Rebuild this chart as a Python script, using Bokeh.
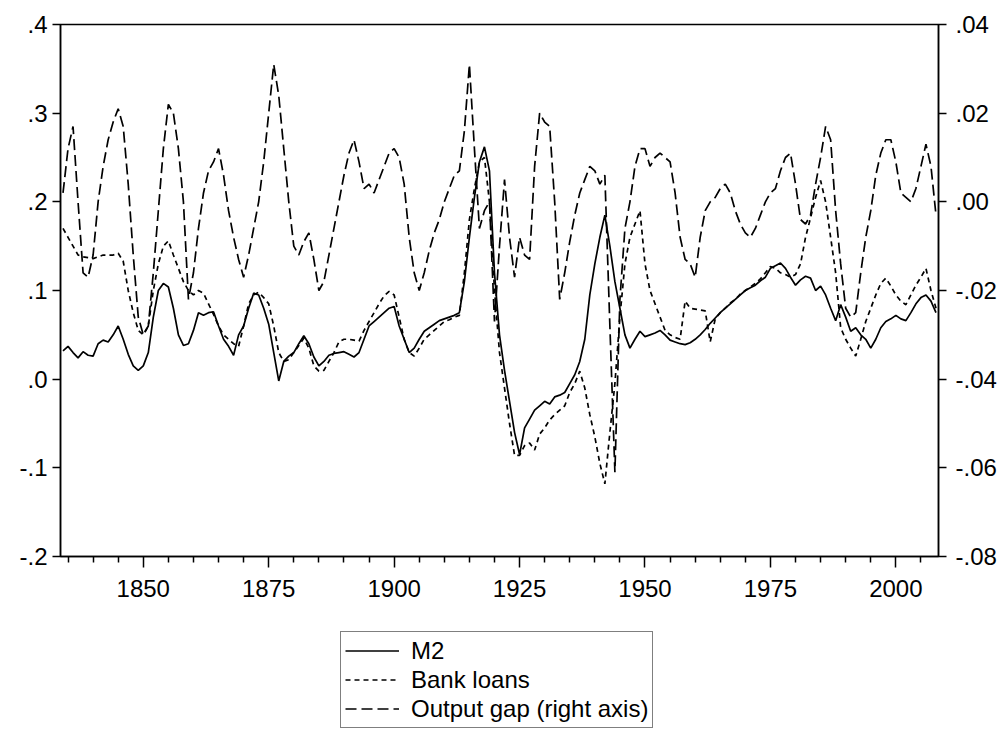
from bokeh.plotting import figure
from bokeh.layouts import column
from bokeh.models import (Range1d, LinearAxis, FixedTicker, CustomJSTickFormatter,
                          Legend, LegendItem, ColumnDataSource)
from bokeh.embed import file_html
from bokeh.resources import INLINE

# ---------------- data (annual, 1834-2008) ----------------
years = list(range(1834, 2009))

m2 = [
    0.032, 0.037, 0.030, 0.024, 0.031, 0.027,                              # 1834-39
    0.026, 0.040, 0.044, 0.042, 0.050, 0.060, 0.045, 0.028, 0.015, 0.010,  # 1840s
    0.015, 0.030, 0.070, 0.100, 0.108, 0.104, 0.080, 0.050, 0.038, 0.040,  # 1850s
    0.055, 0.075, 0.072, 0.075, 0.076, 0.060, 0.045, 0.037, 0.027, 0.050,  # 1860s
    0.060, 0.080, 0.097, 0.095, 0.080, 0.062, 0.030, -0.002, 0.020, 0.026, # 1870s
    0.030, 0.040, 0.049, 0.040, 0.025, 0.015, 0.020, 0.027, 0.029, 0.030,  # 1880s
    0.031, 0.028, 0.025, 0.030, 0.045, 0.060, 0.065, 0.070, 0.075, 0.080,  # 1890s
    0.082, 0.060, 0.045, 0.030, 0.035, 0.045, 0.054, 0.058, 0.062, 0.066,  # 1900s
    0.068, 0.070, 0.072, 0.075, 0.110, 0.160, 0.205, 0.245, 0.262, 0.235,  # 1910s
    0.120, 0.050, 0.010, -0.025, -0.060, -0.085, -0.055, -0.045, -0.035, -0.030,  # 1920s
    -0.025, -0.028, -0.020, -0.018, -0.015, -0.005, 0.005, 0.020, 0.045, 0.095,   # 1930s
    0.130, 0.160, 0.185, 0.150, 0.110, 0.080, 0.050, 0.035, 0.045, 0.054,  # 1940s
    0.048, 0.050, 0.052, 0.055, 0.050, 0.044, 0.042, 0.040, 0.039, 0.041,  # 1950s
    0.045, 0.050, 0.056, 0.063, 0.069, 0.075, 0.080, 0.085, 0.090, 0.095,  # 1960s
    0.100, 0.103, 0.106, 0.111, 0.115, 0.125, 0.128, 0.131, 0.125, 0.115,  # 1970s
    0.106, 0.112, 0.116, 0.114, 0.100, 0.105, 0.095, 0.080, 0.066, 0.084,  # 1980s
    0.070, 0.054, 0.058, 0.050, 0.045, 0.035, 0.045, 0.058, 0.065, 0.068,  # 1990s
    0.072, 0.068, 0.066, 0.075, 0.085, 0.092, 0.095, 0.088, 0.075,         # 2000-08
]

bank_loans = [
    0.170, 0.160, 0.150, 0.140, 0.138, 0.137,
    0.136, 0.138, 0.140, 0.140, 0.140, 0.142, 0.133, 0.100, 0.075, 0.055,
    0.050, 0.060, 0.100, 0.130, 0.150, 0.156, 0.140, 0.125, 0.110, 0.100,
    0.095, 0.100, 0.097, 0.085, 0.073, 0.060, 0.050, 0.045, 0.040, 0.037,
    0.060, 0.085, 0.095, 0.098, 0.092, 0.085, 0.060, 0.030, 0.020, 0.022,
    0.030, 0.038, 0.046, 0.035, 0.015, 0.009, 0.010, 0.020, 0.030, 0.042,
    0.045, 0.045, 0.044, 0.043, 0.055, 0.065, 0.075, 0.085, 0.094, 0.099,
    0.095, 0.070, 0.045, 0.030, 0.026, 0.035, 0.045, 0.050, 0.055, 0.060,
    0.065, 0.067, 0.070, 0.072, 0.120, 0.180, 0.215, 0.245, 0.250, 0.200,
    0.100, 0.030, -0.010, -0.050, -0.086, -0.086, -0.075, -0.072, -0.080, -0.062,
    -0.055, -0.046, -0.040, -0.035, -0.030, -0.015, -0.005, 0.009, -0.010, -0.040,
    -0.065, -0.095, -0.118, -0.060, -0.005, 0.070, 0.130, 0.160, 0.175, 0.190,
    0.130, 0.100, 0.085, 0.070, 0.055, 0.050, 0.047, 0.045, 0.088, 0.080,
    0.079, 0.078, 0.077, 0.042, 0.068, 0.075, 0.080, 0.086, 0.090, 0.096,
    0.100, 0.104, 0.108, 0.113, 0.120, 0.127, 0.125, 0.120, 0.118, 0.115,
    0.118, 0.130, 0.160, 0.182, 0.205, 0.224, 0.200, 0.160, 0.120, 0.058,
    0.045, 0.035, 0.026, 0.045, 0.065, 0.080, 0.095, 0.108, 0.114, 0.105,
    0.095, 0.088, 0.084, 0.095, 0.106, 0.115, 0.125, 0.100, 0.080,
]

output_gap = [
    0.002, 0.012, 0.017, 0.000, -0.016, -0.017,
    -0.012, 0.000, 0.008, 0.014, 0.018, 0.021, 0.017, 0.004, -0.012, -0.026,
    -0.030, -0.028, -0.016, -0.002, 0.012, 0.022, 0.020, 0.012, 0.000, -0.022,
    -0.016, -0.006, 0.002, 0.007, 0.009, 0.012, 0.006, -0.002, -0.008, -0.013,
    -0.017, -0.012, -0.006, 0.000, 0.009, 0.020, 0.031, 0.024, 0.012, 0.000,
    -0.010, -0.012, -0.009, -0.007, -0.013, -0.020, -0.018, -0.012, -0.006, 0.000,
    0.006, 0.011, 0.014, 0.009, 0.003, 0.004, 0.002, 0.005, 0.008, 0.011,
    0.012, 0.010, 0.004, -0.008, -0.016, -0.020, -0.016, -0.011, -0.007, -0.004,
    0.000, 0.003, 0.006, 0.007, 0.016, 0.031, 0.012, -0.006, -0.002, 0.000,
    -0.027, -0.010, 0.005, -0.008, -0.017, -0.008, -0.012, -0.013, 0.008, 0.020,
    0.018, 0.017, 0.000, -0.022, -0.016, -0.009, -0.003, 0.002, 0.005, 0.008,
    0.007, 0.004, 0.006, -0.028, -0.061, -0.022, -0.006, 0.000, 0.008, 0.012,
    0.012, 0.008, 0.010, 0.011, 0.010, 0.009, 0.002, -0.008, -0.013, -0.014,
    -0.017, -0.008, -0.002, 0.000, 0.001, 0.003, 0.004, 0.002, -0.002, -0.005,
    -0.007, -0.008, -0.006, -0.003, 0.000, 0.002, 0.003, 0.007, 0.010, 0.011,
    0.004, -0.004, -0.005, -0.003, 0.004, 0.010, 0.017, 0.014, -0.002, -0.014,
    -0.024, -0.026, -0.025, -0.016, -0.008, -0.002, 0.006, 0.011, 0.014, 0.014,
    0.009, 0.002, 0.001, 0.000, 0.003, 0.008, 0.013, 0.008, -0.003,
]

left_ticks = [-0.2, -0.1, 0.0, 0.1, 0.2, 0.3, 0.4]
right_ticks = [-0.08, -0.06, -0.04, -0.02, 0.0, 0.02, 0.04]
year_ticks = [1850, 1875, 1900, 1925, 1950, 1975, 2000]
year_minor = [1835, 1840, 1845, 1855, 1860, 1865, 1870, 1880, 1885, 1890, 1895,
              1905, 1910, 1915, 1920, 1930, 1935, 1940, 1945, 1955, 1960, 1965,
              1970, 1980, 1985, 1990, 1995, 2005]

labels = ["M2", "Bank loans", "Output gap (right axis)"]

assert len(years) == len(m2) == len(bank_loans) == len(output_gap)

src = ColumnDataSource(dict(year=years, m2=m2, loans=bank_loans, gap=output_gap))

FONT = "Liberation Sans"
FSIZE = "24px"
LW = 1.7
DASH_LOANS = "5 4"
DASH_GAP = "11 5"

p = figure(width=1000, height=612, output_backend="svg", toolbar_location=None,
           x_range=Range1d(1833.5, 2008.5), y_range=Range1d(-0.2, 0.4),
           min_border_left=60, min_border_right=62, min_border_top=24,
           min_border_bottom=56)
p.extra_y_ranges = {"gap": Range1d(-0.08, 0.04)}

p.xgrid.visible = False
p.ygrid.visible = False
p.outline_line_color = "black"
p.outline_line_width = 1.5
p.background_fill_color = "white"
p.border_fill_color = "white"

# x axis
xa = p.xaxis[0]
xa.ticker = FixedTicker(ticks=year_ticks, minor_ticks=year_minor)
xa.major_tick_out = 11
xa.major_tick_in = 0
xa.minor_tick_out = 6
xa.minor_tick_in = 0
xa.major_label_standoff = 12
xa.major_label_text_font = FONT
xa.major_label_text_font_size = FSIZE
xa.major_label_text_color = "black"
xa.axis_line_width = 1.5
xa.major_tick_line_width = 1.5
xa.minor_tick_line_width = 1.5

# left axis
ya = p.yaxis[0]
ya.ticker = FixedTicker(ticks=left_ticks)
ya.formatter = CustomJSTickFormatter(code='return tick.toFixed(1).replace("0.", ".");')
ya.major_tick_out = 8
ya.major_tick_in = 0
ya.minor_tick_out = 0
ya.minor_tick_in = 0
ya.major_label_standoff = 5
ya.major_label_text_font = FONT
ya.major_label_text_font_size = FSIZE
ya.major_label_text_color = "black"
ya.axis_line_width = 1.5
ya.major_tick_line_width = 1.5

# right axis
ra = LinearAxis(y_range_name="gap")
ra.ticker = FixedTicker(ticks=right_ticks)
ra.formatter = CustomJSTickFormatter(code='return tick.toFixed(2).replace("0.", ".");')
ra.major_tick_out = 8
ra.major_tick_in = 0
ra.minor_tick_out = 0
ra.minor_tick_in = 0
ra.major_label_standoff = 9
ra.major_label_text_font = FONT
ra.major_label_text_font_size = FSIZE
ra.major_label_text_color = "black"
ra.axis_line_width = 1.5
ra.major_tick_line_width = 1.5
p.add_layout(ra, "right")

p.line("year", "m2", source=src, line_color="black", line_width=LW)
p.line("year", "loans", source=src, line_color="black", line_width=LW,
       line_dash=DASH_LOANS)
p.line("year", "gap", source=src, y_range_name="gap", line_color="black",
       line_width=LW, line_dash=DASH_GAP)

# ---------------- legend panel below the chart ----------------
# (its ranges keep the series out of view; only the legend keys are drawn)
lg = figure(width=1000, height=118, output_backend="svg", toolbar_location=None,
            x_range=Range1d(0, 1), y_range=Range1d(0, 1),
            x_axis_type=None, y_axis_type=None, min_border=0)
lg.outline_line_color = None
lg.xgrid.visible = False
lg.ygrid.visible = False
k_m2 = lg.line("year", "m2", source=src, line_color="black", line_width=LW)
k_loans = lg.line("year", "loans", source=src, line_color="black", line_width=LW,
                  line_dash=DASH_LOANS)
k_gap = lg.line("year", "gap", source=src, line_color="black", line_width=LW,
                line_dash=DASH_GAP)

legend = Legend(items=[LegendItem(label=labels[0], renderers=[k_m2]),
                       LegendItem(label=labels[1], renderers=[k_loans]),
                       LegendItem(label=labels[2], renderers=[k_gap])],
                location=(280, 2), orientation="vertical")
legend.border_line_color = "black"
legend.border_line_width = 1.5
legend.background_fill_color = "white"
legend.background_fill_alpha = 1.0
legend.padding = 4
legend.spacing = 0
legend.margin = 0
legend.label_height = 29
legend.glyph_height = 29
legend.glyph_width = 54
legend.label_standoff = 12
legend.label_text_font = FONT
legend.label_text_font_size = FSIZE
legend.label_text_color = "black"
lg.add_layout(legend, "center")

layout = column(p, lg, spacing=0)
open("out.html", "w").write(file_html(layout, INLINE))
